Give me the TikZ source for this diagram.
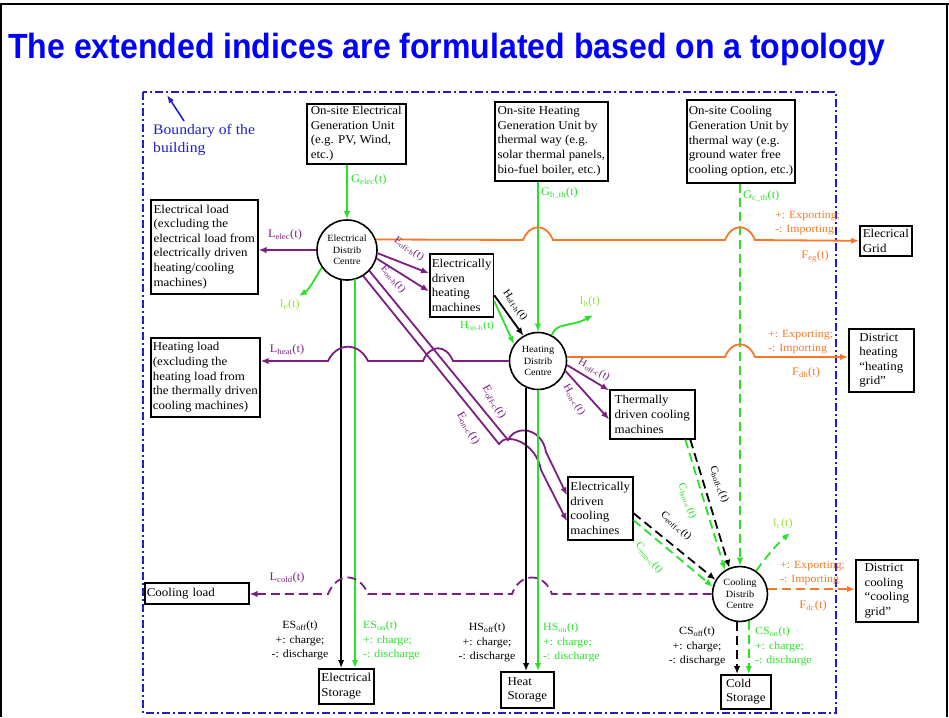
\documentclass[tikz,border=0pt]{standalone}
\usepackage{xcolor}
\usepackage{fontspec}
\setmainfont{Liberation Serif}[FakeStretch=1.08]
\newfontfamily\titlefont{Liberation Sans}[FakeStretch=0.915]
\usepackage{tikz}
\usetikzlibrary{arrows.meta,positioning,calc}

\definecolor{titleblue}{RGB}{0,0,255}
\definecolor{bndblue}{RGB}{30,30,205}
\definecolor{flowgreen}{RGB}{40,225,40}
\definecolor{lossgreen}{RGB}{150,225,60}
\definecolor{flowpurple}{RGB}{125,30,130}
\definecolor{floworange}{RGB}{245,120,40}

\tikzset{
  unitbox/.style={draw, line width=1.6pt, anchor=north west, align=left, inner sep=2pt, font=\fontsize{12}{14.6}\selectfont},
  centre/.style={draw, circle, line width=1.6pt, inner sep=0pt, align=center, font=\fontsize{9.5}{11.5}\selectfont},
  flow/.style={line width=1.8pt, -{Latex[length=8pt,width=6.5pt]}},
  dflow/.style={flow, dash pattern=on 9pt off 5pt},
  lbl/.style={inner sep=0pt, font=\fontsize{11.5}{13}\selectfont},
  slbl/.style={inner sep=0pt, font=\fontsize{10.5}{12}\selectfont},
  note/.style={inner sep=0pt, align=left, font=\fontsize{11}{14.5}\selectfont}
}

\begin{document}
\begin{tikzpicture}[x=1pt,y=-1pt]
    \useasboundingbox (0,0) rectangle (949,717);

    % Slide frame and title
    \draw[line width=1.2pt] (1,717) -- (1,4) -- (947,4) -- (947,717);
    \draw[line width=2.5pt] (0,4) -- (949,4);
    \node[anchor=base west, inner sep=0pt, text=titleblue, font=\titlefont\bfseries\fontsize{35}{40}\selectfont] (title) at (8,59) {The extended indices are formulated based on a topology};

    % Boundary of the building
    \draw[bndblue, line width=2pt, dash pattern=on 8pt off 3pt on 2pt off 3pt] (143,92) rectangle (836,713);
    \node[bndblue, anchor=north west, align=left, inner sep=0pt, font=\fontsize{14.5}{18}\selectfont] (bndl) at (153,124) {Boundary of the\\building};
    \coordinate (bndtip) at (167,95);
    \draw[bndblue, line width=1.6pt, -{Latex[length=8pt,width=6pt]}] ([xshift=-20pt,yshift=3pt]bndl.north) -- (bndtip);

    % Units
    \node[unitbox, minimum width=99pt, minimum height=60pt] (egen) at (306,103) {On-site Electrical\\Generation Unit\\(e.g. PV, Wind,\\etc.)};
    \node[unitbox, minimum width=113pt, minimum height=79pt] (hgen) at (494,101) {On-site Heating\\Generation Unit by\\thermal way (e.g.\\solar thermal panels,\\bio-fuel boiler, etc.)};
    \node[unitbox, minimum width=105pt, minimum height=83pt] (cgen) at (686,99) {On-site Cooling\\Generation Unit by\\thermal way (e.g.\\ground water free\\cooling option, etc.)};
    \node[unitbox, minimum width=107pt, minimum height=94pt] (eload) at (150,199) {Electrical load\\(excluding the\\electrical load from\\electrically driven\\heating/cooling\\machines)};
    \node[unitbox, minimum width=52pt, minimum height=30pt] (egrid) at (859,225) {Elecrical\\Grid};
    \node[unitbox, minimum width=62pt, minimum height=63pt] (eheat) at (429,253) {Electrically\\driven\\heating\\machines};
    \node[unitbox, minimum width=106pt, minimum height=79pt] (hload) at (150,337) {Heating load\\(excluding the\\heating load from\\the thermally driven\\cooling machines)};
    \node[unitbox, minimum width=65pt, minimum height=63pt] (dheat) at (848,328) {District\\heating\\``heating\\grid''};
    \node[unitbox, minimum width=85pt, minimum height=49pt] (tcool) at (609,389) {Thermally\\driven cooling\\machines};
    \node[unitbox, minimum width=65pt, minimum height=63pt] (ecool) at (567,476) {Electrically\\driven\\cooling\\machines};
    \node[unitbox, text width=100pt, minimum height=21pt] (cload) at (144,582) {Cooling load};
    \node[unitbox, minimum width=62pt, minimum height=62pt] (dcool) at (855,559) {District\\cooling\\``cooling\\grid''};
    \node[unitbox, minimum width=55pt, minimum height=35pt] (estore) at (318,668) {Electrical\\Storage};
    \node[unitbox, minimum width=53pt, minimum height=36pt] (hstore) at (500,671) {Heat\\Storage};
    \node[unitbox, minimum width=50pt, minimum height=34pt] (cstore) at (720,674) {Cold\\Storage};

    % Distribution centres
    \node[centre, minimum size=60pt] (ec) at (347,250) {Electrical\\Distrib\\Centre};
    \node[centre, minimum size=57pt] (hc) at (538,361) {Heating\\Distrib\\Centre};
    \node[centre, minimum size=55pt] (cc) at (740,594) {Cooling\\Distrib\\Centre};

    \coordinate (leend) at (299,296);
    \coordinate (lhend) at (593,315);
    \coordinate (lcend) at (790,533);

    % Generation
    \draw[flow, flowgreen] (ec.north |- egen.south) -- (ec.north);
    \draw[flow, flowgreen] (hc.north |- hgen.south) -- (hc.north);
    \draw[dflow, flowgreen] (cc.north |- cgen.south) -- (cc.north);

    % Electrical distrib centre
    \draw[flow, flowpurple] (ec.west) -- (eload.east |- ec.west);
    \draw[flow, flowgreen] (ec.215) .. controls (316,276) and (310,289) .. (leend);
    \draw[flow, floworange] (ec.20) -- (523,240) .. controls (530,223) and (546,223) .. (553,240) -- (725,240) .. controls (732,223) and (748,223) .. (755,240) -- (egrid.west);
    \draw[flow, flowpurple] (ec.-6) -- ([yshift=12pt]eheat.west);
    \draw[flow, flowpurple] (ec.-16) -- ([yshift=-6pt]eheat.west);
    \draw[flow, flowpurple] (ec.-43) -- (508,440) .. controls (516,424) and (542,428) .. (546,452) -- ([yshift=13pt]ecool.west);
    \draw[flow, flowpurple] (ec.-58) -- (499,444) .. controls (506,432) and (536,442) .. (541,470) -- ([yshift=-13pt]ecool.west);
    \draw[flow] (ec.-101) -- (ec.-101 |- estore.north);
    \draw[flow, flowgreen] ([xshift=8pt,yshift=2pt]ec.south) -- ([xshift=8pt]ec.south |- estore.north);

    % Heating distrib centre
    \draw[flow] ([yshift=-10pt]eheat.east) -- (hc.120);
    \draw[flow, flowgreen] ([yshift=-16pt]eheat.east) -- (hc.145);
    \draw[flow, flowgreen] (hc.62) .. controls (556,322) and (572,327) .. (lhend);
    \draw[flow, flowpurple] (hc.west) -- (453,361) .. controls (446,344) and (430,344) .. (423,361) -- (368,361) .. controls (359,342) and (337,342) .. (328,361) -- (hload.east |- hc.west);
    \draw[flow, floworange] (hc.8) -- (725,357) .. controls (732,340) and (748,340) .. (755,357) -- (dheat.west |- hc.8);
    \draw[flow, flowpurple] (hc.-8) -- ([yshift=24pt]tcool.west);
    \draw[flow, flowpurple] (hc.-20) -- ([yshift=-5pt]tcool.west);
    \draw[flow] (hc.-114) -- (hc.-114 |- hstore.north);
    \draw[flow, flowgreen] (hc.south) -- (hc.south |- hstore.north);

    % Cooling distrib centre
    \draw[dflow] ([xshift=38pt]tcool.south) -- (cc.112);
    \draw[dflow, flowgreen] ([xshift=33pt]tcool.south) -- (cc.122);
    \draw[dflow] ([yshift=-5pt]ecool.east) -- (cc.150);
    \draw[dflow, flowgreen] ([yshift=-12pt]ecool.east) -- (cc.165);
    \draw[dflow, flowgreen] (cc.55) .. controls (767,556) and (776,545) .. (lcend);
    \draw[dflow, flowpurple] (cc.west) -- (552,594) .. controls (544,572) and (520,572) .. (512,594) -- (368,594) .. controls (359,572) and (337,572) .. (328,594) -- (cload.east |- cc.west);
    \draw[dflow, floworange] (cc.10) -- (dcool.west |- cc.10);
    \draw[dflow] (cc.-96) -- (cc.-96 |- cstore.north);
    \draw[dflow, flowgreen] (cc.-72) -- (cc.-72 |- cstore.north);

    % Labels
    \node[lbl, flowgreen, anchor=west] (gelecl) at (351,180) {G\textsubscript{elec}(t)};
    \node[lbl, flowgreen, anchor=west] (ghthl) at (541,193) {G\textsubscript{h\_th}(t)};
    \node[lbl, flowgreen, anchor=west] (gcthl) at (743,196) {G\textsubscript{c\_th}(t)};
    \node[lbl, flowpurple] (lelecl) at (285,235) {L\textsubscript{elec}(t)};
    \node[lbl, lossgreen] (lel) at (290,305) {l\textsubscript{e}(t)};
    \node[slbl, flowpurple, rotate=-35] (eoffhl) at (409,249) {E\textsubscript{off-h}(t)};
    \node[slbl, flowpurple, rotate=-50] (eonhl) at (393,279) {E\textsubscript{on-h}(t)};
    \node[slbl, rotate=-55] (hoffhl) at (515,305) {H\textsubscript{off-h}(t)};
    \node[slbl, flowgreen] (honhl) at (477,326) {H\textsubscript{on-h}(t)};
    \node[lbl, lossgreen] (lhl) at (590,302) {l\textsubscript{h}(t)};
    \node[lbl, flowpurple] (lheatl) at (287,350) {L\textsubscript{heat}(t)};
    \node[lbl, flowpurple, rotate=-60] (eoffcl) at (494,402) {E\textsubscript{off-c}(t)};
    \node[lbl, flowpurple, rotate=-60] (eoncl) at (468,428) {E\textsubscript{on-c}(t)};
    \node[slbl, flowpurple, rotate=-30] (hoffcl) at (594,370) {H\textsubscript{off-c}(t)};
    \node[slbl, flowpurple, rotate=-60] (honcl) at (574,400) {H\textsubscript{on-c}(t)};
    \node[note, floworange, anchor=north west] (egnote) at (775,211) {+: Exporting;\\-: Importing};
    \node[lbl, floworange] (fegl) at (815,256) {F\textsubscript{eg}(t)};
    \node[note, floworange, anchor=north west] (dhnote) at (768,330) {+: Exporting;\\-: Importing};
    \node[lbl, floworange] (fdhl) at (806,373) {F\textsubscript{dh}(t)};
    \node[slbl, rotate=-70] (choffl) at (719,484) {C\textsubscript{hoff-c}(t)};
    \node[slbl, flowgreen, rotate=-70] (chonl) at (687,501) {C\textsubscript{hon-c}(t)};
    \node[slbl, rotate=-42] (ceoffl) at (676,526) {C\textsubscript{eoff-c}(t)};
    \node[slbl, flowgreen, rotate=-50] (ceonl) at (649,558) {C\textsubscript{eon-c}(t)};
    \node[lbl, lossgreen] (lcl) at (783,524) {l\textsubscript{c}(t)};
    \node[lbl, flowpurple] (lcoldl) at (287,578) {L\textsubscript{cold}(t)};
    \node[note, floworange, anchor=north west] (dcnote) at (780,561) {+: Exporting;\\-: Importing};
    \node[lbl, floworange] (fdcl) at (813,606) {F\textsubscript{dc}(t)};
    \node[note, align=center, anchor=north] (esoffl) at (300,621) {ES\textsubscript{off}(t)\\+: charge;\\-: discharge};
    \node[note, flowgreen, anchor=north west] (esonl) at (363,621) {ES\textsubscript{on}(t)\\+: charge;\\-: discharge};
    \node[note, align=center, anchor=north] (hsoffl) at (487,623) {HS\textsubscript{off}(t)\\+: charge;\\-: discharge};
    \node[note, flowgreen, anchor=north west] (hsonl) at (543,623) {HS\textsubscript{on}(t)\\+: charge;\\-: discharge};
    \node[note, align=center, anchor=north] (csoffl) at (697,627) {CS\textsubscript{off}(t)\\+: charge;\\-: discharge};
    \node[note, flowgreen, anchor=north west] (csonl) at (755,627) {CS\textsubscript{on}(t)\\+: charge;\\-: discharge};
\end{tikzpicture}
\end{document}
